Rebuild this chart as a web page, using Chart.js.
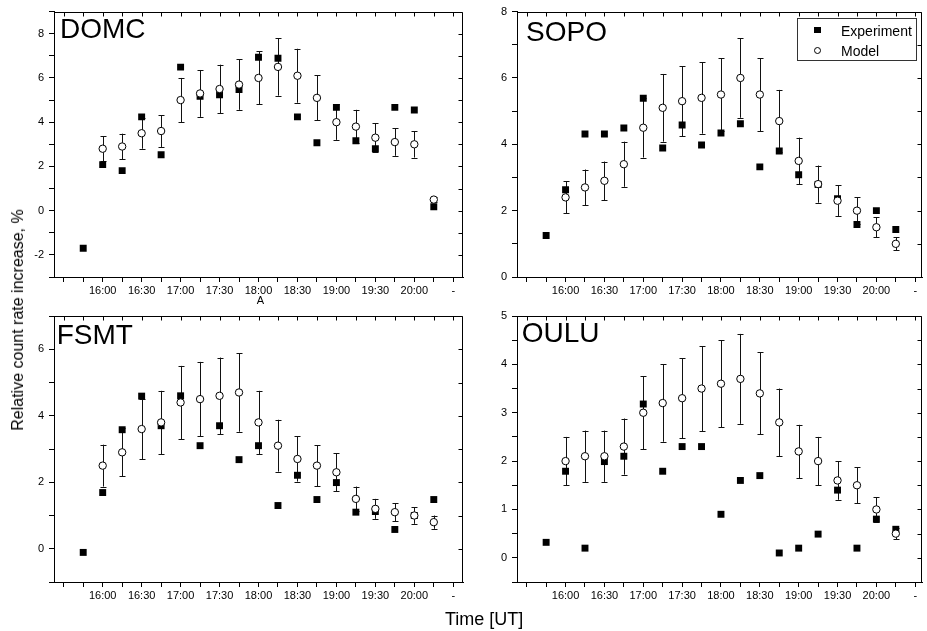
<!DOCTYPE html>
<html><head><meta charset="utf-8">
<script src="https://cdn.jsdelivr.net/npm/chart.js@4"></script>
<style>
html,body{margin:0;padding:0;background:#fff;}
body{width:927px;height:631px;position:relative;overflow:hidden;font-family:"Liberation Sans",Arial,sans-serif;}
canvas{position:absolute;}
.lbl{position:absolute;line-height:1;white-space:nowrap;color:#000;}
.panel{font-size:28px;}
#legend{position:absolute;left:797px;top:18px;width:120px;height:43px;border:1.5px solid #333;box-sizing:border-box;background:#fff;}
.mk{position:absolute;}
</style></head><body>
<canvas id="c1" width="470" height="300" style="left:0;top:0"></canvas>
<canvas id="c2" width="457" height="300" style="left:470px;top:0"></canvas>
<canvas id="c3" width="470" height="310" style="left:0;top:300px"></canvas>
<canvas id="c4" width="457" height="310" style="left:470px;top:300px"></canvas>

<div class="lbl panel" style="left:60px;top:15.3px">DOMC</div>
<div class="lbl panel" style="left:526px;top:17.8px">SOPO</div>
<div class="lbl panel" style="left:56.7px;top:321.3px">FSMT</div>
<div class="lbl panel" style="left:521.7px;top:318.6px">OULU</div>
<div class="lbl" style="left:256.7px;top:295px;font-size:11px">A</div>
<div class="lbl" style="left:18px;top:320px;font-size:16px;transform:translate(-50%,-50%) rotate(-90deg)">Relative count rate increase, %</div>
<div class="lbl" style="left:445px;top:609.8px;font-size:18px">Time [UT]</div>

<div id="legend"></div>
<div class="mk" style="left:814px;top:26.7px;width:6.7px;height:6.7px;background:#000"></div>
<div class="mk" style="left:813.8px;top:46.5px;width:5px;height:5px;border:1px solid #000;border-radius:50%;background:#fff"></div>
<div class="lbl" style="left:841px;top:23.7px;font-size:14px">Experiment</div>
<div class="lbl" style="left:841px;top:43.7px;font-size:14px">Model</div>

<script>
// ---------- data ----------
const times = ['15:45','16:00','16:15','16:30','16:45','17:00','17:15','17:30','17:45','18:00',
               '18:15','18:30','18:45','19:00','19:15','19:30','19:45','20:00','20:15'];
const xTickTimes = ['15:30','15:45','16:00','16:15','16:30','16:45','17:00','17:15','17:30','17:45','18:00',
                    '18:15','18:30','18:45','19:00','19:15','19:30','19:45','20:00','20:15','20:30'];
const xTickLabels = ['','','16:00','','16:30','','17:00','','17:30','','18:00',
                     '','18:30','','19:00','','19:30','','20:00','','-'];

const domcExp   = [-1.7, 2.08, 1.81, 4.24, 2.53, 6.49, 5.17, 5.24, 5.48, 6.94, 6.89, 4.24, 3.07, 4.67, 3.16, 2.8, 4.67, 4.55, 0.18];
const domcModel = [null, 2.8, 2.9, 3.5, 3.6, 5.0, 5.3, 5.5, 5.7, 6.0, 6.5, 6.1, 5.1, 4.0, 3.8, 3.3, 3.1, 3.0, 0.5];
const domcErr   = [null, 0.56, 0.58, 0.7, 0.72, 1.0, 1.06, 1.1, 1.14, 1.2, 1.3, 1.22, 1.02, 0.8, 0.76, 0.66, 0.62, 0.6, 0.1];
const domcYLabels = ['-2','0','2','4','6','8'];

const sopoExp   = [1.25, 2.63, 4.31, 4.31, 4.49, 5.39, 3.89, 4.58, 3.98, 4.34, 4.62, 3.32, 3.8, 3.08, 2.79, 2.36, 1.58, 2.0, 1.43];
const sopoModel = [null, 2.4, 2.7, 2.9, 3.4, 4.5, 5.1, 5.3, 5.4, 5.5, 6.0, 5.5, 4.7, 3.5, 2.8, 2.3, 2.0, 1.5, 1.0];
const sopoErr   = [null, 0.48, 0.54, 0.58, 0.68, 0.9, 1.02, 1.06, 1.08, 1.1, 1.2, 1.1, 0.94, 0.7, 0.56, 0.46, 0.4, 0.3, 0.2];
const sopoYLabels = ['0','2','4','6','8'];

const fsmtExp   = [-0.11, 1.69, 3.58, 4.59, 3.7, 4.6, 3.1, 3.7, 2.68, 3.1, 1.3, 2.21, 1.48, 1.99, 1.1, 1.12, 0.58, 1.0, 1.48];
const fsmtModel = [null, 2.5, 2.9, 3.6, 3.8, 4.4, 4.5, 4.6, 4.7, 3.8, 3.1, 2.7, 2.5, 2.3, 1.5, 1.2, 1.1, 1.0, 0.8];
const fsmtErr   = [null, 0.63, 0.72, 0.9, 0.95, 1.1, 1.12, 1.15, 1.18, 0.95, 0.78, 0.68, 0.62, 0.57, 0.37, 0.3, 0.27, 0.25, 0.2];
const fsmtYLabels = ['0','2','4','6'];

const ouluExp   = [0.32, 1.79, 0.2, 1.99, 2.1, 3.18, 1.79, 2.3, 2.3, 0.9, 1.6, 1.7, 0.1, 0.2, 0.49, 1.4, 0.2, 0.8, 0.59];
const ouluModel = [null, 2.0, 2.1, 2.1, 2.3, 3.0, 3.2, 3.3, 3.5, 3.6, 3.7, 3.4, 2.8, 2.2, 2.0, 1.6, 1.5, 1.0, 0.5];
const ouluErr   = [null, 0.5, 0.53, 0.53, 0.58, 0.75, 0.8, 0.83, 0.88, 0.9, 0.93, 0.85, 0.7, 0.55, 0.5, 0.4, 0.37, 0.25, 0.12];
const ouluYLabels = ['0','1','2','3','4','5'];

// ---------- helpers ----------
const toMin = t => { const [h, m] = t.split(':').map(Number); return h * 60 + m; };
const FONT = {family: '"Liberation Sans", Arial, sans-serif', size: 11};

const errorBarPlugin = {
  id: 'errorBars',
  beforeDatasetsDraw(chart) {
    const ctx = chart.ctx, xs = chart.scales.x, ys = chart.scales.y;
    ctx.save();
    ctx.strokeStyle = '#111';
    ctx.lineWidth = 1;
    chart.data.datasets.forEach(ds => {
      if (!ds.errorBars) return;
      ds.data.forEach((p, i) => {
        const e = ds.errorBars[i];
        if (e == null) return;
        const x = Math.round(xs.getPixelForValue(p.x)) + 0.5;
        const y1 = ys.getPixelForValue(p.y + e), y2 = ys.getPixelForValue(p.y - e);
        ctx.beginPath();
        ctx.moveTo(x, y1); ctx.lineTo(x, y2);
        ctx.moveTo(x - 3, Math.round(y1) + 0.5); ctx.lineTo(x + 3, Math.round(y1) + 0.5);
        ctx.moveTo(x - 3, Math.round(y2) + 0.5); ctx.lineTo(x + 3, Math.round(y2) + 0.5);
        ctx.stroke();
      });
    });
    ctx.restore();
  }
};

const framePlugin = {
  id: 'frame',
  afterDraw(chart) {
    const ctx = chart.ctx, a = chart.chartArea, xs = chart.scales.x, ys = chart.scales.y;
    ctx.save();
    ctx.strokeStyle = '#000';
    ctx.lineWidth = 1;
    const top = Math.round(a.top) + 0.5, right = Math.round(a.right) - 0.5;
    ctx.beginPath();
    ctx.moveTo(Math.round(a.left), top); ctx.lineTo(right, top);
    ctx.moveTo(right, top); ctx.lineTo(right, Math.round(a.bottom));
    xs.ticks.forEach(t => {
      const x = Math.round(xs.getPixelForValue(t.value)) + 0.5;
      ctx.moveTo(x, top); ctx.lineTo(x, top + 4);
    });
    ys.ticks.forEach(t => {
      const y = Math.round(ys.getPixelForValue(t.value)) + 0.5;
      ctx.moveTo(right, y); ctx.lineTo(right - 4, y);
    });
    ctx.stroke();
    ctx.restore();
  }
};

function makePanel(id, exp, model, err, yLabels, cfg) {
  const expData = times.map((t, i) => ({x: toMin(t), y: exp[i]}));
  const modData = [], modErr = [];
  times.forEach((t, i) => { if (model[i] != null) { modData.push({x: toMin(t), y: model[i]}); modErr.push(err[i]); } });
  const xTickVals = xTickTimes.map(toMin);
  return new Chart(document.getElementById(id), {
    type: 'scatter',
    data: {
      datasets: [
        {label: 'Model', data: modData, errorBars: modErr, pointStyle: 'circle', pointRadius: 3.7,
         backgroundColor: '#fff', borderColor: '#000', borderWidth: 1, pointHoverRadius: 3.7},
        {label: 'Experiment', data: expData, pointStyle: 'rect', pointRadius: 4.9,
         backgroundColor: '#000', borderColor: '#000', borderWidth: 0, pointHoverRadius: 4.9}
      ]
    },
    options: {
      responsive: false,
      animation: false,
      events: [],
      layout: {padding: {left: 0, top: cfg.padTop, right: cfg.padRight, bottom: 0}},
      plugins: {legend: {display: false}, tooltip: {enabled: false}},
      scales: {
        x: {
          type: 'linear', min: cfg.xMin, max: cfg.xMax,
          afterBuildTicks: s => { s.ticks = xTickVals.map(v => ({value: v})); },
          afterFit: s => { s.height = cfg.xH; },
          ticks: {autoSkip: false, maxRotation: 0, minRotation: 0, padding: 2, color: '#000', font: FONT,
                  callback: (v, i) => xTickLabels[xTickVals.indexOf(v)] ?? ''},
          grid: {drawOnChartArea: false, drawTicks: true, tickLength: 5, color: '#000', lineWidth: 1},
          border: {display: true, color: '#000', width: 1}
        },
        y: {
          type: 'linear', min: cfg.yMin, max: cfg.yMax,
          afterBuildTicks: s => {
            const t = [];
            for (let v = cfg.yMin; v <= cfg.yMax + 1e-9; v += cfg.yStep) t.push({value: Math.round(v * 100) / 100});
            s.ticks = t;
          },
          afterFit: s => { s.width = cfg.yW; },
          ticks: {autoSkip: false, padding: 5, color: '#000', font: FONT,
                  callback: v => yLabels.includes(String(v)) ? String(v) : ''},
          grid: {drawOnChartArea: false, drawTicks: true, tickLength: 5, color: '#000', lineWidth: 1},
          border: {display: true, color: '#000', width: 1}
        }
      }
    },
    plugins: [errorBarPlugin, framePlugin]
  });
}

makePanel('c1', domcExp, domcModel, domcErr, domcYLabels,
  {xMin: 922.5, xMax: 1237.5, yMin: -3, yMax: 9, yStep: 1, padTop: 10, padRight: 7, yW: 54, xH: 23});
makePanel('c2', sopoExp, sopoModel, sopoErr, sopoYLabels,
  {xMin: 922.5, xMax: 1235.3, yMin: 0, yMax: 8, yStep: 1, padTop: 10, padRight: 4, yW: 47, xH: 23});
makePanel('c3', fsmtExp, fsmtModel, fsmtErr, fsmtYLabels,
  {xMin: 922.5, xMax: 1237.5, yMin: -1, yMax: 7, yStep: 1, padTop: 16, padRight: 7, yW: 54, xH: 28});
makePanel('c4', ouluExp, ouluModel, ouluErr, ouluYLabels,
  {xMin: 922.5, xMax: 1235.3, yMin: -0.5, yMax: 5, yStep: 0.5, padTop: 16, padRight: 4, yW: 47, xH: 28});
</script>
</body></html>
